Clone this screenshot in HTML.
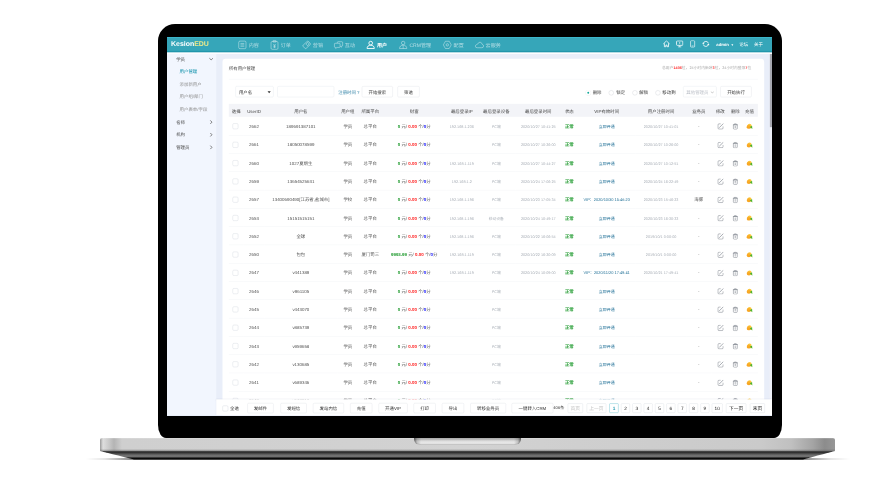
<!DOCTYPE html>
<html lang="zh-CN">
<head>
<meta charset="utf-8">
<title>KesionEDU 用户管理</title>
<style>
*{box-sizing:border-box;margin:0;padding:0}
html,body{width:892px;height:477px;overflow:hidden;background:#fff}
body{position:relative;font-family:"Liberation Sans","Noto Sans CJK SC",sans-serif}
/* laptop */
.bezel{position:absolute;left:157.8px;top:24.2px;width:624px;height:414.3px;background:#000;border-radius:17px 17px 8px 8px / 17px 17px 13px 13px}
.base{position:absolute;left:100px;top:438px;width:735px;height:13px;border-radius:2px 2px 1px 1px;
 background:linear-gradient(90deg,#9a9a9a 0,#dedede 3px,#c9c9c9 9px,#b4b4b4 14px,#cfcfcf 22px,#d2d2d2 50%,#cacaca 90%,#c0c0c0 94%,#a4a4a4 97%,#8c8c8c 98.600%,#979797 100%)}
.base:before{content:"";position:absolute;left:0;right:0;top:0;height:1px;background:rgba(255,255,255,.15)}
.base:after{content:"";position:absolute;left:0;right:0;bottom:0;height:2px;background:linear-gradient(180deg,rgba(120,120,120,.0),rgba(90,90,90,.55))}
.notch{position:absolute;left:413.500px;top:437.800px;width:107.500px;height:7px;border-radius:0 0 6px 6px;
 background:linear-gradient(90deg,rgba(60,60,60,.75) 0,rgba(90,90,90,.25) 3px,rgba(0,0,0,0) 7px,rgba(0,0,0,0) calc(100% - 7px),rgba(90,90,90,.25) calc(100% - 3px),rgba(60,60,60,.75) 100%),linear-gradient(180deg,#cfcfcf,#e4e4e4 55%,#eaeaea);box-shadow:inset 0 -1px 1px rgba(120,120,120,.35),inset 0 2px 2px rgba(0,0,0,.18)}
.under{position:absolute;left:100px;top:451px;width:735px;height:8.500px}
.shadow{position:absolute;left:86px;top:457.900px;width:764px;height:1.800px;background:linear-gradient(90deg,rgba(0,0,0,0) 0,rgba(0,0,0,.10) 2.500%,rgba(0,0,0,.45) 6%,rgba(0,0,0,.6) 50%,rgba(0,0,0,.45) 94%,rgba(0,0,0,.10) 97.500%,rgba(0,0,0,0) 100%);filter:blur(.4px)}
.screen{position:absolute;left:166.800px;top:37.200px;width:605.400px;height:378.600px;overflow:hidden;background:#e9eef9}
/* app at 1920x1200 scaled */
.app{position:absolute;left:0;top:0;width:1920px;height:1200px;transform:scale(.31531);transform-origin:0 0;text-rendering:geometricPrecision;background:#e9eef9;color:#333;font-size:14px;overflow:hidden}
.hd{position:absolute;left:0;top:0;width:1920px;height:49px;background:#36a6b9;border-top:2px solid #41bfd4;border-bottom:5px solid #2196ab;z-index:3}
.hd:after{content:"";position:absolute;left:0;top:47px;width:1920px;height:4.500px;background:#fdfdff}
.logo{position:absolute;left:13px;top:0;line-height:42px;font-size:22px;font-weight:bold;color:#fff;letter-spacing:0}
.logo i{font-style:normal;color:#ece98a}
.nav{position:absolute;left:208px;top:1.500px;height:42px;display:flex}
.nav a{display:flex;align-items:center;height:42px;padding:0 18.300px 0 17.300px;color:rgba(255,255,255,.62);font-size:16px;white-space:nowrap}
.nav a svg{width:28px;height:28px;margin-right:6px;stroke:rgba(255,255,255,.62);fill:none;stroke-width:2;overflow:visible}
.nav a.on{color:#fff;font-weight:bold}
.nav a.on svg{stroke:#fff;stroke-width:2.800}
.tools{position:absolute;top:0;height:42px;line-height:42px;color:#fff;font-size:14px}
.tools svg{position:absolute;top:8px;width:24px;height:24px;stroke:#fff;fill:none;stroke-width:2.500}
.tools span{position:absolute;top:2px;white-space:nowrap}
/* sidebar */
.side{position:absolute;left:0;top:46px;width:156px;height:1154px;background:#f2f6fe;padding-top:4px}
.side div{height:40px;line-height:40px;padding-left:29px;font-size:14px;color:#444;position:relative}
.side div.sub{padding-left:40px;color:#8e8e8e}
.side div.act{color:#2a9db5;font-weight:500}
.side div svg{position:absolute;left:132px;top:12px;width:16px;height:16px;stroke:#666;fill:none;stroke-width:2.600}
/* panel */
.panel{position:absolute;left:176px;top:69px;width:1718px;height:1200px;background:#fff;border-radius:10px}
.ttl{position:absolute;left:20px;top:20px;line-height:22px;font-size:14px;color:#444}
.stat{position:absolute;right:41px;top:18.500px;line-height:22px;font-size:12px;color:#aaa;white-space:nowrap}
.stat b{color:#f33;font-weight:bold}
.line{position:absolute;left:20px;top:64px;width:1678px;height:1px;background:#eceef2}
.sel{position:absolute;height:35px;border:1px solid #dde1e9;border-radius:4px;line-height:38px;padding-left:10px;font-size:14px;color:#333;background:#fff}
.sel:after{content:"";position:absolute;right:8px;top:15px;width:0;height:0;border:5px solid transparent;border-top:6px solid #333;border-bottom:0}
.sel.dis{color:#bcc0c8;font-size:14px}
.sel.dis:after{right:9px;top:13px;width:6px;height:6px;border:0;border-right:1.500px solid #999;border-bottom:1.500px solid #999;transform:rotate(45deg)}
.inp{position:absolute;height:35px;border:1px solid #dde1e9;border-radius:4px;background:#fff}
.btn{position:absolute;height:35px;line-height:38px;border:1px solid #d9dce3;border-radius:4px;background:#fff;font-size:14px;color:#333;text-align:center;white-space:nowrap}
.lk{position:absolute;font-size:14px;color:#2a7ea3;white-space:nowrap}
.rd{position:absolute;width:16px;height:16px;border:1.300px solid #c2c6cc;border-radius:50%;background:#fff}
.rd.on{border:5px solid #fff;background:#12a89a;box-shadow:0 0 0 1px #efefef}
.rl{position:absolute;font-size:14px;color:#333;white-space:nowrap;line-height:20px}
/* table */
table{position:absolute;left:20px;top:143px;width:1678px;border-collapse:collapse;table-layout:fixed;font-size:14px;color:#505050}
th{height:41px;padding-top:4px;font-weight:normal;color:#444;text-align:center;white-space:nowrap;font-size:14px}
td{height:58px;padding-top:3px;border-bottom:1px solid #eceef2;text-align:center;white-space:nowrap;overflow:visible;vertical-align:middle}
td.s{font-size:12px;color:#aab0b8;padding-top:5px}
td.lnk{font-size:12.500px;color:#1f6f96}
b.g{color:#1f9a2e}b.r{color:#f22}b.b{color:#22f}
.cb{display:inline-block;width:18px;height:18px;border:1.500px solid #c4cad4;border-radius:4px;background:#fff;vertical-align:middle;position:relative;left:-3px}
.ic{width:21px;height:21px;vertical-align:middle;position:relative;top:0.500px}
/* bottom bar */
.bar{position:absolute;left:156px;top:1149px;width:1764px;height:51px;background:#fff;box-shadow:0 -1px 4px rgba(120,130,160,.16)}
.bar .btn{height:32px;line-height:35px;top:12px}
.pg{position:absolute;top:13px;height:30px;line-height:31px;border:1px solid #d3d7de;border-radius:3px;background:#fff;font-size:15px;color:#222;text-align:center;white-space:nowrap}
.pg.dis{color:#c4c4c4}
.pg.on{border:1.500px solid #35aac0;color:#2a9db5;line-height:30px;font-weight:bold}
.scroll{position:absolute;left:1910px;top:46px;width:10px;height:1154px;background:#edf0f8}
.scroll i{position:absolute;left:2px;top:2px;width:8px;height:238px;background:#a6a8b0;border-radius:0}
</style>
</head>
<body>
<div class="shadow"></div>
<svg class="under" viewBox="0 0 735 8.500" preserveAspectRatio="none">
 <defs><linearGradient id="ug" x1="0" y1="0" x2="0" y2="1"><stop offset="0" stop-color="#4a4a4a"/><stop offset=".18" stop-color="#303030"/><stop offset=".42" stop-color="#606060"/><stop offset=".62" stop-color="#7c7c7c"/><stop offset=".76" stop-color="#3a3a3a"/><stop offset=".86" stop-color="#0a0a0a"/><stop offset="1" stop-color="#000"/></linearGradient></defs>
 <path d="M0 0H735C729 1.500 722 3.500 703 8.500H34C14 3.500 6 1.500 0 0Z" fill="url(#ug)"/>
</svg>
<div class="base"></div>
<div class="bezel"></div>
<div class="notch"></div>
<div class="screen">
<div class="app">
 <div class="hd">
  <div class="logo">Kesion<i>EDU</i></div>
  <div class="nav">
   <a><svg viewBox="0 0 28 28"><rect x="2.500" y="2" width="23" height="24" rx="4"/><path d="M8 9.500h12M8 14h12M8 18.500h12"/></svg>内容</a>
   <a><svg viewBox="0 0 28 28"><rect x="3" y="3.500" width="22" height="24.500" rx="3.500"/><path d="M9 5V1.500Q9 0 10.500 0h7Q19 0 19 1.500V5z"/><path d="M10 11l4 4.500 4-4.500M14 15.500v8M10 17.500h8M10 21h8"/></svg>订单</a>
   <a><svg viewBox="0 0 28 28"><g transform="rotate(-42 14 14)"><rect x="2.500" y="7" width="23" height="14" rx="3"/><rect x="14" y="10.500" width="8" height="7" rx="1.500"/></g></svg>营销</a>
   <a><svg viewBox="0 0 28 28"><path d="M10 8V6.500Q10 4 12.500 4h12Q27 4 27 6.500v9Q27 18 24.500 18H23v3.500L20 19"/><path d="M3.500 9h13Q19 9 19 11.500v8Q19 22 16.500 22H9l-4 3.500V22H3.500Q1 22 1 19.500v-8Q1 9 3.500 9z"/></svg>互动</a>
   <a class="on" style="margin-right:1.500px"><svg viewBox="0 0 28 28"><circle cx="14" cy="8.500" r="5.800"/><path d="M2.500 25.500c0-6.500 4.500-10.500 11.500-10.500s11.500 4 11.500 10.500z"/></svg>用户</a>
   <a><svg viewBox="0 0 28 28"><circle cx="14" cy="8" r="5.500"/><path d="M2.500 25.500c0-6.500 4.500-10.500 11.500-10.500s11.500 4 11.500 10.500zM14 16v9.500"/></svg><span style="margin-right:2px">CRM管理</span></a>
   <a><svg viewBox="0 0 28 28"><path d="M1.500 14 8 2.500h12L26.500 14 20 25.500H8z"/><circle cx="14" cy="14" r="3.800"/></svg>配置</a>
   <a><svg viewBox="0 0 28 28"><path d="M6.500 23Q1 23 1 18q0-3.500 4-5 1-2 3.500-1.500Q11 5 16 5.500q5 .5 6.500 6.500 4.500 1.500 4.500 5.500 0 5.500-5.500 5.500z"/></svg>云服务</a>
  </div>
  <div class="tools" style="left:0;width:1920px">
   <svg style="left:1572px" viewBox="0 0 24 24"><path d="M2 12 12 2.500 22 12M5.500 10v11h4.700v-5.500h3.600V21h4.700V10"/></svg>
   <svg style="left:1614px" viewBox="0 0 24 24"><rect x="2" y="2.500" width="20" height="14" rx="2.500"/><path d="M7 21.500h10M12 17v4M12 6.500v5"/></svg>
   <svg style="left:1655px" viewBox="0 0 24 24"><rect x="5.500" y="1.500" width="13" height="21" rx="3" stroke-width="2"/><path d="M9 18.500h6" stroke-width="2"/></svg>
   <svg style="left:1697px" viewBox="0 0 24 24"><path d="M3.800 10.500a8.400 8.400 0 0 1 16.400 0M20.200 13.500a8.400 8.400 0 0 1-16.400 0"/><path d="M1 9l3 3.200L7 9zM23 15l-3-3.200L17 15z" fill="#fff" stroke-width="1"/></svg>
   <span style="left:1742px;font-size:13.500px;font-weight:bold">admin</span><span style="left:1788px;font-size:10px">▼</span>
   <span style="left:1815px">论坛</span>
   <span style="left:1862px">关于</span>
  </div>
 </div>
 <div class="side">
  <div>学员<svg viewBox="0 0 16 16"><path d="M2.500 5.500 8 10.500 13.500 5.500"/></svg></div>
  <div class="sub act">用户管理</div>
  <div class="sub">添加新用户</div>
  <div class="sub">用户组/部门</div>
  <div class="sub">用户表单/字段</div>
  <div>名师<svg viewBox="0 0 16 16"><path d="M5.500 2.500 10.500 8 5.500 13.500"/></svg></div>
  <div>机构<svg viewBox="0 0 16 16"><path d="M5.500 2.500 10.500 8 5.500 13.500"/></svg></div>
  <div>管理员<svg viewBox="0 0 16 16"><path d="M5.500 2.500 10.500 8 5.500 13.500"/></svg></div>
 </div>
 <div class="panel">
  <div class="ttl">所有用户管理</div>
  <div class="stat">总用户<b>1406</b>位，24小时内新增<b>3</b>位，24小时内登录<b>7</b>位</div>
  <div class="line"></div>
  <div class="sel" style="left:41px;top:87px;width:121px">用户名</div>
  <div class="inp" style="left:174px;top:87px;width:180px"></div>
  <div class="lk" style="left:367px;top:87px;line-height:38px">注册时间 ?</div>
  <div class="btn" style="left:442px;top:87px;width:98px">开始搜索</div>
  <div class="btn" style="left:555px;top:87px;width:70px">筛选</div>
  <span class="rd on" style="left:1152px;top:100px"></span><span class="rl" style="left:1174px;top:98px">删除</span>
  <span class="rd" style="left:1225px;top:100px"></span><span class="rl" style="left:1249px;top:98px">锁定</span>
  <span class="rd" style="left:1300px;top:100px"></span><span class="rl" style="left:1322px;top:98px">解锁</span>
  <span class="rd" style="left:1373px;top:100px"></span><span class="rl" style="left:1395px;top:98px">移动到</span>
  <div class="sel dis" style="left:1461px;top:87px;width:106px;padding-left:9px">其他管理员</div>
  <div class="btn" style="left:1579px;top:87px;width:99px">开始执行</div>
  <div style="position:absolute;left:20px;top:143px;width:1678px;height:41px;background:#f3f4f8"></div>
  <table>
   <colgroup><col style="width:47px"><col style="width:66px"><col style="width:231px"><col style="width:67px"><col style="width:75px"><col style="width:204px"><col style="width:98px"><col style="width:121px"><col style="width:145px"><col style="width:52px"><col style="width:185px"><col style="width:160px"><col style="width:79px"><col style="width:58px"><col style="width:37px"><col style="width:53px"></colgroup>
   <thead><tr><th>选择</th><th>UserID</th><th>用户名</th><th>用户组</th><th>所属平台</th><th>财富</th><th>最后登录IP</th><th>最后登录设备</th><th>最后登录时间</th><th>状态</th><th>VIP有效时间</th><th>用户注册时间</th><th>业务员</th><th>修改</th><th>删除</th><th>充值</th></tr></thead>
   <tbody>
<tr><td><span class="cb"></span></td><td>2662</td><td>189691387101</td><td>学员</td><td>总平台</td><td><b class="g">0</b> 元/ <b class="r">0.00</b> 个/<b class="b">0</b>分</td><td class="s">192.168.1.236</td><td class="s">PC端</td><td class="s">2020/10/27 10:41:25</td><td><b class="g">正常</b></td><td class="lnk">立即开通</td><td class="s">2020/10/27 10:41:01</td><td>-</td><td><svg class="ic" viewBox="0 0 22 22"><path d="M19.500 11v5.500a3.500 3.500 0 0 1-3.500 3.500H6a3.500 3.500 0 0 1-3.500-3.500V6A3.500 3.500 0 0 1 6 2.500h5.500" fill="none" stroke="#7d828c" stroke-width="1.800"/><path d="M7.500 14.500 19.500 2.500" fill="none" stroke="#7d828c" stroke-width="2.200" stroke-linecap="round"/></svg></td><td><svg class="ic" viewBox="0 0 22 22"><path d="M4.500 5.500h13v12a3 3 0 0 1-3 3h-7a3 3 0 0 1-3-3z" fill="none" stroke="#7d828c" stroke-width="1.800"/><path d="M3 5.500h16M8 5V2.500h6V5M8.500 11h5M8.500 15h5" fill="none" stroke="#7d828c" stroke-width="1.800"/></svg></td><td><svg class="ic" viewBox="0 0 22 22"><ellipse cx="9" cy="13.500" rx="7.500" ry="5.500" fill="#f6a623"/><ellipse cx="11" cy="7.500" rx="6.500" ry="5" fill="#fbc93d"/><ellipse cx="8" cy="10.500" rx="6" ry="4.500" fill="#f9a825" opacity=".8"/><path d="M11.500 13 19.500 8.500 20.500 20z" fill="#4db52a"/></svg></td></tr>
<tr><td><span class="cb"></span></td><td>2661</td><td>18050078599</td><td>学员</td><td>总平台</td><td><b class="g">0</b> 元/ <b class="r">0.00</b> 个/<b class="b">0</b>分</td><td class="s"></td><td class="s">PC端</td><td class="s">2020/10/27 10:26:00</td><td><b class="g">正常</b></td><td class="lnk">立即开通</td><td class="s">2020/10/27 10:26:00</td><td>-</td><td><svg class="ic" viewBox="0 0 22 22"><path d="M19.500 11v5.500a3.500 3.500 0 0 1-3.500 3.500H6a3.500 3.500 0 0 1-3.500-3.500V6A3.500 3.500 0 0 1 6 2.500h5.500" fill="none" stroke="#7d828c" stroke-width="1.800"/><path d="M7.500 14.500 19.500 2.500" fill="none" stroke="#7d828c" stroke-width="2.200" stroke-linecap="round"/></svg></td><td><svg class="ic" viewBox="0 0 22 22"><path d="M4.500 5.500h13v12a3 3 0 0 1-3 3h-7a3 3 0 0 1-3-3z" fill="none" stroke="#7d828c" stroke-width="1.800"/><path d="M3 5.500h16M8 5V2.500h6V5M8.500 11h5M8.500 15h5" fill="none" stroke="#7d828c" stroke-width="1.800"/></svg></td><td><svg class="ic" viewBox="0 0 22 22"><ellipse cx="9" cy="13.500" rx="7.500" ry="5.500" fill="#f6a623"/><ellipse cx="11" cy="7.500" rx="6.500" ry="5" fill="#fbc93d"/><ellipse cx="8" cy="10.500" rx="6" ry="4.500" fill="#f9a825" opacity=".8"/><path d="M11.500 13 19.500 8.500 20.500 20z" fill="#4db52a"/></svg></td></tr>
<tr><td><span class="cb"></span></td><td>2660</td><td>1027夏期生</td><td>学员</td><td>总平台</td><td><b class="g">0</b> 元/ <b class="r">0.00</b> 个/<b class="b">0</b>分</td><td class="s">192.168.1.119</td><td class="s">PC端</td><td class="s">2020/10/27 10:44:27</td><td><b class="g">正常</b></td><td class="lnk">立即开通</td><td class="s">2020/10/27 10:12:51</td><td>-</td><td><svg class="ic" viewBox="0 0 22 22"><path d="M19.500 11v5.500a3.500 3.500 0 0 1-3.500 3.500H6a3.500 3.500 0 0 1-3.500-3.500V6A3.500 3.500 0 0 1 6 2.500h5.500" fill="none" stroke="#7d828c" stroke-width="1.800"/><path d="M7.500 14.500 19.500 2.500" fill="none" stroke="#7d828c" stroke-width="2.200" stroke-linecap="round"/></svg></td><td><svg class="ic" viewBox="0 0 22 22"><path d="M4.500 5.500h13v12a3 3 0 0 1-3 3h-7a3 3 0 0 1-3-3z" fill="none" stroke="#7d828c" stroke-width="1.800"/><path d="M3 5.500h16M8 5V2.500h6V5M8.500 11h5M8.500 15h5" fill="none" stroke="#7d828c" stroke-width="1.800"/></svg></td><td><svg class="ic" viewBox="0 0 22 22"><ellipse cx="9" cy="13.500" rx="7.500" ry="5.500" fill="#f6a623"/><ellipse cx="11" cy="7.500" rx="6.500" ry="5" fill="#fbc93d"/><ellipse cx="8" cy="10.500" rx="6" ry="4.500" fill="#f9a825" opacity=".8"/><path d="M11.500 13 19.500 8.500 20.500 20z" fill="#4db52a"/></svg></td></tr>
<tr><td><span class="cb"></span></td><td>2659</td><td>13654525631</td><td>学员</td><td>总平台</td><td><b class="g">0</b> 元/ <b class="r">0.00</b> 个/<b class="b">0</b>分</td><td class="s">192.168.1.2</td><td class="s">PC端</td><td class="s">2020/10/24 17:06:25</td><td><b class="g">正常</b></td><td class="lnk">立即开通</td><td class="s">2020/10/24 16:22:49</td><td>-</td><td><svg class="ic" viewBox="0 0 22 22"><path d="M19.500 11v5.500a3.500 3.500 0 0 1-3.500 3.500H6a3.500 3.500 0 0 1-3.500-3.500V6A3.500 3.500 0 0 1 6 2.500h5.500" fill="none" stroke="#7d828c" stroke-width="1.800"/><path d="M7.500 14.500 19.500 2.500" fill="none" stroke="#7d828c" stroke-width="2.200" stroke-linecap="round"/></svg></td><td><svg class="ic" viewBox="0 0 22 22"><path d="M4.500 5.500h13v12a3 3 0 0 1-3 3h-7a3 3 0 0 1-3-3z" fill="none" stroke="#7d828c" stroke-width="1.800"/><path d="M3 5.500h16M8 5V2.500h6V5M8.500 11h5M8.500 15h5" fill="none" stroke="#7d828c" stroke-width="1.800"/></svg></td><td><svg class="ic" viewBox="0 0 22 22"><ellipse cx="9" cy="13.500" rx="7.500" ry="5.500" fill="#f6a623"/><ellipse cx="11" cy="7.500" rx="6.500" ry="5" fill="#fbc93d"/><ellipse cx="8" cy="10.500" rx="6" ry="4.500" fill="#f9a825" opacity=".8"/><path d="M11.500 13 19.500 8.500 20.500 20z" fill="#4db52a"/></svg></td></tr>
<tr><td><span class="cb"></span></td><td>2657</td><td>13400690490[江苏省,盐城市]</td><td>学校</td><td>总平台</td><td><b class="g">0</b> 元/ <b class="r">0.00</b> 个/<b class="b">0</b>分</td><td class="s">192.168.1.196</td><td class="s">PC端</td><td class="s">2020/10/23 17:05:34</td><td><b class="g">正常</b></td><td class="lnk">VIP：2020/10/30 15:46:23</td><td class="s">2020/10/23 15:46:23</td><td>海豚</td><td><svg class="ic" viewBox="0 0 22 22"><path d="M19.500 11v5.500a3.500 3.500 0 0 1-3.500 3.500H6a3.500 3.500 0 0 1-3.500-3.500V6A3.500 3.500 0 0 1 6 2.500h5.500" fill="none" stroke="#7d828c" stroke-width="1.800"/><path d="M7.500 14.500 19.500 2.500" fill="none" stroke="#7d828c" stroke-width="2.200" stroke-linecap="round"/></svg></td><td><svg class="ic" viewBox="0 0 22 22"><path d="M4.500 5.500h13v12a3 3 0 0 1-3 3h-7a3 3 0 0 1-3-3z" fill="none" stroke="#7d828c" stroke-width="1.800"/><path d="M3 5.500h16M8 5V2.500h6V5M8.500 11h5M8.500 15h5" fill="none" stroke="#7d828c" stroke-width="1.800"/></svg></td><td><svg class="ic" viewBox="0 0 22 22"><ellipse cx="9" cy="13.500" rx="7.500" ry="5.500" fill="#f6a623"/><ellipse cx="11" cy="7.500" rx="6.500" ry="5" fill="#fbc93d"/><ellipse cx="8" cy="10.500" rx="6" ry="4.500" fill="#f9a825" opacity=".8"/><path d="M11.500 13 19.500 8.500 20.500 20z" fill="#4db52a"/></svg></td></tr>
<tr><td><span class="cb"></span></td><td>2653</td><td>15151515151</td><td>学员</td><td>总平台</td><td><b class="g">0</b> 元/ <b class="r">0.00</b> 个/<b class="b">0</b>分</td><td class="s">192.168.1.196</td><td class="s">移动设备</td><td class="s">2020/10/24 10:49:17</td><td><b class="g">正常</b></td><td class="lnk">立即开通</td><td class="s">2020/10/23 16:30:33</td><td>-</td><td><svg class="ic" viewBox="0 0 22 22"><path d="M19.500 11v5.500a3.500 3.500 0 0 1-3.500 3.500H6a3.500 3.500 0 0 1-3.500-3.500V6A3.500 3.500 0 0 1 6 2.500h5.500" fill="none" stroke="#7d828c" stroke-width="1.800"/><path d="M7.500 14.500 19.500 2.500" fill="none" stroke="#7d828c" stroke-width="2.200" stroke-linecap="round"/></svg></td><td><svg class="ic" viewBox="0 0 22 22"><path d="M4.500 5.500h13v12a3 3 0 0 1-3 3h-7a3 3 0 0 1-3-3z" fill="none" stroke="#7d828c" stroke-width="1.800"/><path d="M3 5.500h16M8 5V2.500h6V5M8.500 11h5M8.500 15h5" fill="none" stroke="#7d828c" stroke-width="1.800"/></svg></td><td><svg class="ic" viewBox="0 0 22 22"><ellipse cx="9" cy="13.500" rx="7.500" ry="5.500" fill="#f6a623"/><ellipse cx="11" cy="7.500" rx="6.500" ry="5" fill="#fbc93d"/><ellipse cx="8" cy="10.500" rx="6" ry="4.500" fill="#f9a825" opacity=".8"/><path d="M11.500 13 19.500 8.500 20.500 20z" fill="#4db52a"/></svg></td></tr>
<tr><td><span class="cb"></span></td><td>2652</td><td>全球</td><td>学员</td><td>总平台</td><td><b class="g">0</b> 元/ <b class="r">0.00</b> 个/<b class="b">0</b>分</td><td class="s">192.168.1.196</td><td class="s">PC端</td><td class="s">2020/10/22 16:06:54</td><td><b class="g">正常</b></td><td class="lnk">立即开通</td><td class="s">2019/10/1 0:00:00</td><td>-</td><td><svg class="ic" viewBox="0 0 22 22"><path d="M19.500 11v5.500a3.500 3.500 0 0 1-3.500 3.500H6a3.500 3.500 0 0 1-3.500-3.500V6A3.500 3.500 0 0 1 6 2.500h5.500" fill="none" stroke="#7d828c" stroke-width="1.800"/><path d="M7.500 14.500 19.500 2.500" fill="none" stroke="#7d828c" stroke-width="2.200" stroke-linecap="round"/></svg></td><td><svg class="ic" viewBox="0 0 22 22"><path d="M4.500 5.500h13v12a3 3 0 0 1-3 3h-7a3 3 0 0 1-3-3z" fill="none" stroke="#7d828c" stroke-width="1.800"/><path d="M3 5.500h16M8 5V2.500h6V5M8.500 11h5M8.500 15h5" fill="none" stroke="#7d828c" stroke-width="1.800"/></svg></td><td><svg class="ic" viewBox="0 0 22 22"><ellipse cx="9" cy="13.500" rx="7.500" ry="5.500" fill="#f6a623"/><ellipse cx="11" cy="7.500" rx="6.500" ry="5" fill="#fbc93d"/><ellipse cx="8" cy="10.500" rx="6" ry="4.500" fill="#f9a825" opacity=".8"/><path d="M11.500 13 19.500 8.500 20.500 20z" fill="#4db52a"/></svg></td></tr>
<tr><td><span class="cb"></span></td><td>2650</td><td>包包</td><td>学员</td><td>厦门司三</td><td><b class="g">9993.99</b> 元/ <b class="r">0.00</b> 个/<b class="b">0</b>分</td><td class="s">192.168.1.119</td><td class="s">PC端</td><td class="s">2020/10/22 16:20:09</td><td><b class="g">正常</b></td><td class="lnk">立即开通</td><td class="s">2019/10/1 0:00:00</td><td>-</td><td><svg class="ic" viewBox="0 0 22 22"><path d="M19.500 11v5.500a3.500 3.500 0 0 1-3.500 3.500H6a3.500 3.500 0 0 1-3.500-3.500V6A3.500 3.500 0 0 1 6 2.500h5.500" fill="none" stroke="#7d828c" stroke-width="1.800"/><path d="M7.500 14.500 19.500 2.500" fill="none" stroke="#7d828c" stroke-width="2.200" stroke-linecap="round"/></svg></td><td><svg class="ic" viewBox="0 0 22 22"><path d="M4.500 5.500h13v12a3 3 0 0 1-3 3h-7a3 3 0 0 1-3-3z" fill="none" stroke="#7d828c" stroke-width="1.800"/><path d="M3 5.500h16M8 5V2.500h6V5M8.500 11h5M8.500 15h5" fill="none" stroke="#7d828c" stroke-width="1.800"/></svg></td><td><svg class="ic" viewBox="0 0 22 22"><ellipse cx="9" cy="13.500" rx="7.500" ry="5.500" fill="#f6a623"/><ellipse cx="11" cy="7.500" rx="6.500" ry="5" fill="#fbc93d"/><ellipse cx="8" cy="10.500" rx="6" ry="4.500" fill="#f9a825" opacity=".8"/><path d="M11.500 13 19.500 8.500 20.500 20z" fill="#4db52a"/></svg></td></tr>
<tr><td><span class="cb"></span></td><td>2647</td><td>v441389</td><td>学员</td><td>总平台</td><td><b class="g">0</b> 元/ <b class="r">0.00</b> 个/<b class="b">0</b>分</td><td class="s">192.168.1.119</td><td class="s">PC端</td><td class="s">2020/10/24 10:09:00</td><td><b class="g">正常</b></td><td class="lnk">VIP：2020/11/20 17:49:41</td><td class="s">2020/10/21 17:49:41</td><td>-</td><td><svg class="ic" viewBox="0 0 22 22"><path d="M19.500 11v5.500a3.500 3.500 0 0 1-3.500 3.500H6a3.500 3.500 0 0 1-3.500-3.500V6A3.500 3.500 0 0 1 6 2.500h5.500" fill="none" stroke="#7d828c" stroke-width="1.800"/><path d="M7.500 14.500 19.500 2.500" fill="none" stroke="#7d828c" stroke-width="2.200" stroke-linecap="round"/></svg></td><td><svg class="ic" viewBox="0 0 22 22"><path d="M4.500 5.500h13v12a3 3 0 0 1-3 3h-7a3 3 0 0 1-3-3z" fill="none" stroke="#7d828c" stroke-width="1.800"/><path d="M3 5.500h16M8 5V2.500h6V5M8.500 11h5M8.500 15h5" fill="none" stroke="#7d828c" stroke-width="1.800"/></svg></td><td><svg class="ic" viewBox="0 0 22 22"><ellipse cx="9" cy="13.500" rx="7.500" ry="5.500" fill="#f6a623"/><ellipse cx="11" cy="7.500" rx="6.500" ry="5" fill="#fbc93d"/><ellipse cx="8" cy="10.500" rx="6" ry="4.500" fill="#f9a825" opacity=".8"/><path d="M11.500 13 19.500 8.500 20.500 20z" fill="#4db52a"/></svg></td></tr>
<tr><td><span class="cb"></span></td><td>2646</td><td>v961105</td><td>学员</td><td>总平台</td><td><b class="g">0</b> 元/ <b class="r">0.00</b> 个/<b class="b">0</b>分</td><td class="s"></td><td class="s">PC端</td><td class="s"></td><td><b class="g">正常</b></td><td class="lnk">立即开通</td><td class="s"></td><td>-</td><td><svg class="ic" viewBox="0 0 22 22"><path d="M19.500 11v5.500a3.500 3.500 0 0 1-3.500 3.500H6a3.500 3.500 0 0 1-3.500-3.500V6A3.500 3.500 0 0 1 6 2.500h5.500" fill="none" stroke="#7d828c" stroke-width="1.800"/><path d="M7.500 14.500 19.500 2.500" fill="none" stroke="#7d828c" stroke-width="2.200" stroke-linecap="round"/></svg></td><td><svg class="ic" viewBox="0 0 22 22"><path d="M4.500 5.500h13v12a3 3 0 0 1-3 3h-7a3 3 0 0 1-3-3z" fill="none" stroke="#7d828c" stroke-width="1.800"/><path d="M3 5.500h16M8 5V2.500h6V5M8.500 11h5M8.500 15h5" fill="none" stroke="#7d828c" stroke-width="1.800"/></svg></td><td><svg class="ic" viewBox="0 0 22 22"><ellipse cx="9" cy="13.500" rx="7.500" ry="5.500" fill="#f6a623"/><ellipse cx="11" cy="7.500" rx="6.500" ry="5" fill="#fbc93d"/><ellipse cx="8" cy="10.500" rx="6" ry="4.500" fill="#f9a825" opacity=".8"/><path d="M11.500 13 19.500 8.500 20.500 20z" fill="#4db52a"/></svg></td></tr>
<tr><td><span class="cb"></span></td><td>2645</td><td>v443070</td><td>学员</td><td>总平台</td><td><b class="g">0</b> 元/ <b class="r">0.00</b> 个/<b class="b">0</b>分</td><td class="s"></td><td class="s">PC端</td><td class="s"></td><td><b class="g">正常</b></td><td class="lnk">立即开通</td><td class="s"></td><td>-</td><td><svg class="ic" viewBox="0 0 22 22"><path d="M19.500 11v5.500a3.500 3.500 0 0 1-3.500 3.500H6a3.500 3.500 0 0 1-3.500-3.500V6A3.500 3.500 0 0 1 6 2.500h5.500" fill="none" stroke="#7d828c" stroke-width="1.800"/><path d="M7.500 14.500 19.500 2.500" fill="none" stroke="#7d828c" stroke-width="2.200" stroke-linecap="round"/></svg></td><td><svg class="ic" viewBox="0 0 22 22"><path d="M4.500 5.500h13v12a3 3 0 0 1-3 3h-7a3 3 0 0 1-3-3z" fill="none" stroke="#7d828c" stroke-width="1.800"/><path d="M3 5.500h16M8 5V2.500h6V5M8.500 11h5M8.500 15h5" fill="none" stroke="#7d828c" stroke-width="1.800"/></svg></td><td><svg class="ic" viewBox="0 0 22 22"><ellipse cx="9" cy="13.500" rx="7.500" ry="5.500" fill="#f6a623"/><ellipse cx="11" cy="7.500" rx="6.500" ry="5" fill="#fbc93d"/><ellipse cx="8" cy="10.500" rx="6" ry="4.500" fill="#f9a825" opacity=".8"/><path d="M11.500 13 19.500 8.500 20.500 20z" fill="#4db52a"/></svg></td></tr>
<tr><td><span class="cb"></span></td><td>2644</td><td>v885739</td><td>学员</td><td>总平台</td><td><b class="g">0</b> 元/ <b class="r">0.00</b> 个/<b class="b">0</b>分</td><td class="s"></td><td class="s">PC端</td><td class="s"></td><td><b class="g">正常</b></td><td class="lnk">立即开通</td><td class="s"></td><td>-</td><td><svg class="ic" viewBox="0 0 22 22"><path d="M19.500 11v5.500a3.500 3.500 0 0 1-3.500 3.500H6a3.500 3.500 0 0 1-3.500-3.500V6A3.500 3.500 0 0 1 6 2.500h5.500" fill="none" stroke="#7d828c" stroke-width="1.800"/><path d="M7.500 14.500 19.500 2.500" fill="none" stroke="#7d828c" stroke-width="2.200" stroke-linecap="round"/></svg></td><td><svg class="ic" viewBox="0 0 22 22"><path d="M4.500 5.500h13v12a3 3 0 0 1-3 3h-7a3 3 0 0 1-3-3z" fill="none" stroke="#7d828c" stroke-width="1.800"/><path d="M3 5.500h16M8 5V2.500h6V5M8.500 11h5M8.500 15h5" fill="none" stroke="#7d828c" stroke-width="1.800"/></svg></td><td><svg class="ic" viewBox="0 0 22 22"><ellipse cx="9" cy="13.500" rx="7.500" ry="5.500" fill="#f6a623"/><ellipse cx="11" cy="7.500" rx="6.500" ry="5" fill="#fbc93d"/><ellipse cx="8" cy="10.500" rx="6" ry="4.500" fill="#f9a825" opacity=".8"/><path d="M11.500 13 19.500 8.500 20.500 20z" fill="#4db52a"/></svg></td></tr>
<tr><td><span class="cb"></span></td><td>2643</td><td>v959658</td><td>学员</td><td>总平台</td><td><b class="g">0</b> 元/ <b class="r">0.00</b> 个/<b class="b">0</b>分</td><td class="s"></td><td class="s">PC端</td><td class="s"></td><td><b class="g">正常</b></td><td class="lnk">立即开通</td><td class="s"></td><td>-</td><td><svg class="ic" viewBox="0 0 22 22"><path d="M19.500 11v5.500a3.500 3.500 0 0 1-3.500 3.500H6a3.500 3.500 0 0 1-3.500-3.500V6A3.500 3.500 0 0 1 6 2.500h5.500" fill="none" stroke="#7d828c" stroke-width="1.800"/><path d="M7.500 14.500 19.500 2.500" fill="none" stroke="#7d828c" stroke-width="2.200" stroke-linecap="round"/></svg></td><td><svg class="ic" viewBox="0 0 22 22"><path d="M4.500 5.500h13v12a3 3 0 0 1-3 3h-7a3 3 0 0 1-3-3z" fill="none" stroke="#7d828c" stroke-width="1.800"/><path d="M3 5.500h16M8 5V2.500h6V5M8.500 11h5M8.500 15h5" fill="none" stroke="#7d828c" stroke-width="1.800"/></svg></td><td><svg class="ic" viewBox="0 0 22 22"><ellipse cx="9" cy="13.500" rx="7.500" ry="5.500" fill="#f6a623"/><ellipse cx="11" cy="7.500" rx="6.500" ry="5" fill="#fbc93d"/><ellipse cx="8" cy="10.500" rx="6" ry="4.500" fill="#f9a825" opacity=".8"/><path d="M11.500 13 19.500 8.500 20.500 20z" fill="#4db52a"/></svg></td></tr>
<tr><td><span class="cb"></span></td><td>2642</td><td>v130685</td><td>学员</td><td>总平台</td><td><b class="g">0</b> 元/ <b class="r">0.00</b> 个/<b class="b">0</b>分</td><td class="s"></td><td class="s">PC端</td><td class="s"></td><td><b class="g">正常</b></td><td class="lnk">立即开通</td><td class="s"></td><td>-</td><td><svg class="ic" viewBox="0 0 22 22"><path d="M19.500 11v5.500a3.500 3.500 0 0 1-3.500 3.500H6a3.500 3.500 0 0 1-3.500-3.500V6A3.500 3.500 0 0 1 6 2.500h5.500" fill="none" stroke="#7d828c" stroke-width="1.800"/><path d="M7.500 14.500 19.500 2.500" fill="none" stroke="#7d828c" stroke-width="2.200" stroke-linecap="round"/></svg></td><td><svg class="ic" viewBox="0 0 22 22"><path d="M4.500 5.500h13v12a3 3 0 0 1-3 3h-7a3 3 0 0 1-3-3z" fill="none" stroke="#7d828c" stroke-width="1.800"/><path d="M3 5.500h16M8 5V2.500h6V5M8.500 11h5M8.500 15h5" fill="none" stroke="#7d828c" stroke-width="1.800"/></svg></td><td><svg class="ic" viewBox="0 0 22 22"><ellipse cx="9" cy="13.500" rx="7.500" ry="5.500" fill="#f6a623"/><ellipse cx="11" cy="7.500" rx="6.500" ry="5" fill="#fbc93d"/><ellipse cx="8" cy="10.500" rx="6" ry="4.500" fill="#f9a825" opacity=".8"/><path d="M11.500 13 19.500 8.500 20.500 20z" fill="#4db52a"/></svg></td></tr>
<tr><td><span class="cb"></span></td><td>2641</td><td>v689346</td><td>学员</td><td>总平台</td><td><b class="g">0</b> 元/ <b class="r">0.00</b> 个/<b class="b">0</b>分</td><td class="s"></td><td class="s">PC端</td><td class="s"></td><td><b class="g">正常</b></td><td class="lnk">立即开通</td><td class="s"></td><td>-</td><td><svg class="ic" viewBox="0 0 22 22"><path d="M19.500 11v5.500a3.500 3.500 0 0 1-3.500 3.500H6a3.500 3.500 0 0 1-3.500-3.500V6A3.500 3.500 0 0 1 6 2.500h5.500" fill="none" stroke="#7d828c" stroke-width="1.800"/><path d="M7.500 14.500 19.500 2.500" fill="none" stroke="#7d828c" stroke-width="2.200" stroke-linecap="round"/></svg></td><td><svg class="ic" viewBox="0 0 22 22"><path d="M4.500 5.500h13v12a3 3 0 0 1-3 3h-7a3 3 0 0 1-3-3z" fill="none" stroke="#7d828c" stroke-width="1.800"/><path d="M3 5.500h16M8 5V2.500h6V5M8.500 11h5M8.500 15h5" fill="none" stroke="#7d828c" stroke-width="1.800"/></svg></td><td><svg class="ic" viewBox="0 0 22 22"><ellipse cx="9" cy="13.500" rx="7.500" ry="5.500" fill="#f6a623"/><ellipse cx="11" cy="7.500" rx="6.500" ry="5" fill="#fbc93d"/><ellipse cx="8" cy="10.500" rx="6" ry="4.500" fill="#f9a825" opacity=".8"/><path d="M11.500 13 19.500 8.500 20.500 20z" fill="#4db52a"/></svg></td></tr>
<tr><td><span class="cb"></span></td><td>2640</td><td>v572913</td><td>学员</td><td>总平台</td><td><b class="g">0</b> 元/ <b class="r">0.00</b> 个/<b class="b">0</b>分</td><td class="s"></td><td class="s">PC端</td><td class="s"></td><td><b class="g">正常</b></td><td class="lnk">立即开通</td><td class="s"></td><td>-</td><td><svg class="ic" viewBox="0 0 22 22"><path d="M19.500 11v5.500a3.500 3.500 0 0 1-3.500 3.500H6a3.500 3.500 0 0 1-3.500-3.500V6A3.500 3.500 0 0 1 6 2.500h5.500" fill="none" stroke="#7d828c" stroke-width="1.800"/><path d="M7.500 14.500 19.500 2.500" fill="none" stroke="#7d828c" stroke-width="2.200" stroke-linecap="round"/></svg></td><td><svg class="ic" viewBox="0 0 22 22"><path d="M4.500 5.500h13v12a3 3 0 0 1-3 3h-7a3 3 0 0 1-3-3z" fill="none" stroke="#7d828c" stroke-width="1.800"/><path d="M3 5.500h16M8 5V2.500h6V5M8.500 11h5M8.500 15h5" fill="none" stroke="#7d828c" stroke-width="1.800"/></svg></td><td><svg class="ic" viewBox="0 0 22 22"><ellipse cx="9" cy="13.500" rx="7.500" ry="5.500" fill="#f6a623"/><ellipse cx="11" cy="7.500" rx="6.500" ry="5" fill="#fbc93d"/><ellipse cx="8" cy="10.500" rx="6" ry="4.500" fill="#f9a825" opacity=".8"/><path d="M11.500 13 19.500 8.500 20.500 20z" fill="#4db52a"/></svg></td></tr>

   </tbody>
  </table>
 </div>
 <div class="scroll"><i></i></div>
 <div class="bar">
  <span class="cb" style="position:absolute;left:20px;top:20px"></span><span class="rl" style="left:44px;top:19px">全选</span>
  <div class="btn" style="left:99px;width:83px">发邮件</div>
  <div class="btn" style="left:204px;width:83px">发短信</div>
  <div class="btn" style="left:307px;width:98px">发站内信</div>
  <div class="btn" style="left:425px;width:70px">充值</div>
  <div class="btn" style="left:515px;width:92px">开通VIP</div>
  <div class="btn" style="left:626px;width:70px">打印</div>
  <div class="btn" style="left:716px;width:70px">导出</div>
  <div class="btn" style="left:806px;width:113px">转移业务员</div>
  <span class="rl" style="left:1062px;top:18px;font-size:13px">1406条</span>
  <div class="btn" style="left:937px;width:132px">一键转入CRM</div>
  <div class="pg dis" style="left:1115px;width:48px">首页</div>
  <div class="pg dis" style="left:1175px;width:62px">上一页</div>
  <div class="pg on" style="left:1247px;width:29px">1</div>
  <div class="pg" style="left:1284px;width:28px">2</div>
  <div class="pg" style="left:1320px;width:28px">3</div>
  <div class="pg" style="left:1356px;width:28px">4</div>
  <div class="pg" style="left:1392px;width:28px">5</div>
  <div class="pg" style="left:1428px;width:28px">6</div>
  <div class="pg" style="left:1464px;width:28px">7</div>
  <div class="pg" style="left:1500px;width:28px">8</div>
  <div class="pg" style="left:1536px;width:28px">9</div>
  <div class="pg" style="left:1572px;width:34px">10</div>
  <div class="pg" style="left:1617px;width:64px">下一页</div>
  <div class="pg" style="left:1693px;width:47px">末页</div>
 </div>
</div>
</div>
</body>
</html>
